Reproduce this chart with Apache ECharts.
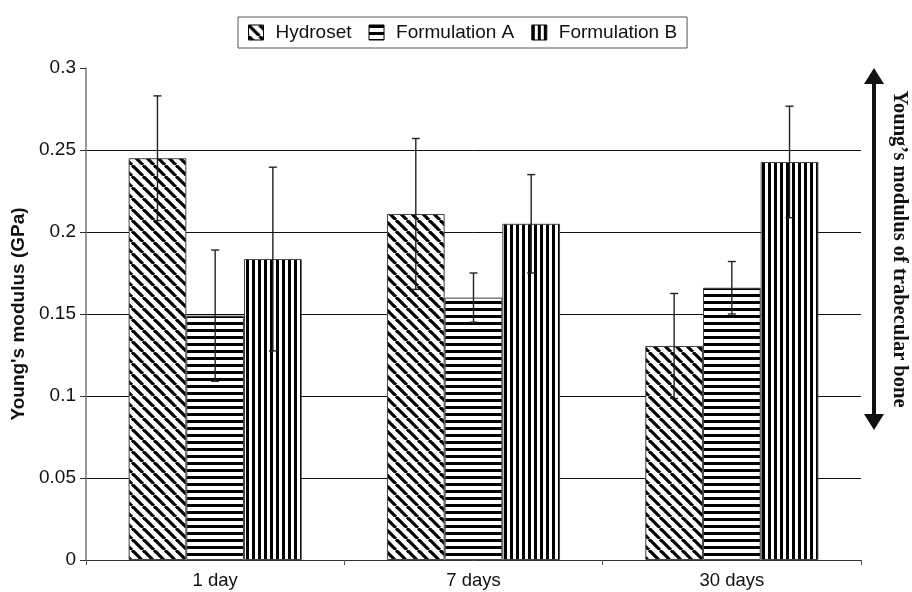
<!DOCTYPE html>
<html>
<head>
<meta charset="utf-8">
<script src="https://cdn.jsdelivr.net/npm/echarts@6/dist/echarts.min.js"></script>
<style>html,body{margin:0;padding:0;background:#fff}#c{width:912px;height:592px}</style>
</head>
<body>
<div id="c"></div>
<script>
const categories = ['1 day', '7 days', '30 days'];
const seriesNames = ['Hydroset', 'Formulation A', 'Formulation B'];
const hydroset = [0.245, 0.211, 0.1305];
const hydrosetErr = [0.038, 0.046, 0.032];
const formA = [0.149, 0.160, 0.166];
const formAErr = [0.040, 0.015, 0.016];
const formB = [0.1835, 0.205, 0.2427];
const formBErr = [0.056, 0.030, 0.034];
const yTickLabels = ['0', '0.05', '0.1', '0.15', '0.2', '0.25', '0.3'];

function makePattern(kind) {
  const cv = document.createElement('canvas');
  const ctx = cv.getContext('2d');
  if (kind === 'diag') {
    const s = 11;
    cv.width = s; cv.height = s;
    ctx.fillStyle = '#fff'; ctx.fillRect(0, 0, s, s);
    ctx.strokeStyle = '#000'; ctx.lineWidth = 3.2;
    for (const o of [-s, 0, s]) {
      ctx.beginPath(); ctx.moveTo(o, 0); ctx.lineTo(o + s, s); ctx.stroke();
    }
  } else if (kind === 'horiz') {
    cv.width = 4; cv.height = 7;
    ctx.fillStyle = '#fff'; ctx.fillRect(0, 0, 4, 7);
    ctx.fillStyle = '#000'; ctx.fillRect(0, 0, 4, 3);
  } else {
    cv.width = 6; cv.height = 4;
    ctx.fillStyle = '#fff'; ctx.fillRect(0, 0, 6, 4);
    ctx.fillStyle = '#000'; ctx.fillRect(0, 0, 3, 4);
  }
  return { image: cv, repeat: 'repeat' };
}
const patterns = [makePattern('diag'), makePattern('horiz'), makePattern('vert')];
const values = [hydroset, formA, formB];
const errors = [hydrosetErr, formAErr, formBErr];

const CAT_GAP = 0.33;
const series = [];
seriesNames.forEach((name, k) => {
  series.push({
    name: name,
    type: 'bar',
    data: values[k],
    barGap: '0%',
    barCategoryGap: (CAT_GAP * 100) + '%',
    itemStyle: { color: patterns[k], borderColor: '#444', borderWidth: 1 },
    emphasis: { disabled: true },
    z: 2
  });
});
seriesNames.forEach((name, k) => {
  series.push({
    type: 'custom',
    name: name + ' err',
    z: 5,
    silent: true,
    data: values[k].map((v, i) => [i, v, errors[k][i]]),
    encode: { x: 0, y: 1 },
    renderItem: function (params, api) {
      const cat = api.value(0), val = api.value(1), err = api.value(2);
      const band = api.size([1, 0])[0];
      const bw = band * (1 - CAT_GAP) / 3;
      const off = (k - 1) * bw;
      const top = api.coord([cat, val + err]);
      const bot = api.coord([cat, val - err]);
      const x = top[0] + off;
      const cap = 4;
      const st = { stroke: '#222', lineWidth: 1.4 };
      return {
        type: 'group',
        children: [
          { type: 'line', shape: { x1: x, y1: top[1], x2: x, y2: bot[1] }, style: st },
          { type: 'line', shape: { x1: x - cap, y1: top[1], x2: x + cap, y2: top[1] }, style: st },
          { type: 'line', shape: { x1: x - cap, y1: bot[1], x2: x + cap, y2: bot[1] }, style: st }
        ]
      };
    }
  });
});

const chart = echarts.init(document.getElementById('c'), null, { renderer: 'canvas' });
chart.setOption({
  animation: false,
  backgroundColor: '#fff',
  grid: { left: 86, right: 51, top: 68, bottom: 32, containLabel: false },
  legend: {
    data: seriesNames,
    top: 17,
    left: 238,
    itemWidth: 15,
    itemHeight: 15,
    itemGap: 17,
    icon: 'rect',
    padding: [6, 10, 6, 10],
    borderColor: '#555',
    borderWidth: 1,
    itemStyle: { borderColor: '#000', borderWidth: 1 },
    textStyle: { fontFamily: 'Liberation Sans', fontSize: 19, color: '#111', padding: [0, 0, 0, 7] },
    selectedMode: false
  },
  xAxis: {
    type: 'category',
    data: categories,
    axisLine: { lineStyle: { color: '#333', width: 1 } },
    axisTick: { show: true, length: 5, lineStyle: { color: '#555' } },
    axisLabel: { fontFamily: 'Liberation Sans', fontSize: 18.5, color: '#111', margin: 11 }
  },
  yAxis: {
    type: 'value',
    min: 0, max: 0.3, interval: 0.05,
    name: "Young's modulus (GPa)",
    nameLocation: 'middle',
    nameGap: 54,
    nameTextStyle: { fontFamily: 'Liberation Sans', fontSize: 19, fontWeight: 'bold', color: '#111' },
    axisLine: { show: true, lineStyle: { color: '#777', width: 1.5 } },
    axisTick: { show: true, length: 6, lineStyle: { color: '#333' } },
    axisLabel: {
      fontFamily: 'Liberation Sans', fontSize: 19, color: '#111', margin: 10,
      formatter: function (v) { return yTickLabels[Math.round(v / 0.05)]; }
    },
    splitLine: { show: true, showMaxLine: false, showMinLine: false, lineStyle: { color: '#111', width: 1 } }
  },
  graphic: [
    { type: 'line', shape: { x1: 874, y1: 80, x2: 874, y2: 418 }, style: { stroke: '#111', lineWidth: 4 } },
    { type: 'polygon', shape: { points: [[874, 68], [864, 84], [884, 84]] }, style: { fill: '#111' } },
    { type: 'polygon', shape: { points: [[874, 430], [864, 414], [884, 414]] }, style: { fill: '#111' } },
    {
      type: 'text', x: 899, y: 249, rotation: -Math.PI / 2,
      style: {
        text: "Young\u2019s modulus of trabecular bone",
        fontFamily: 'Liberation Serif', fontWeight: 'bold', fontSize: 20.5, fill: '#111',
        align: 'center', verticalAlign: 'middle'
      }
    }
  ],
  series: series
});
</script>
</body>
</html>
